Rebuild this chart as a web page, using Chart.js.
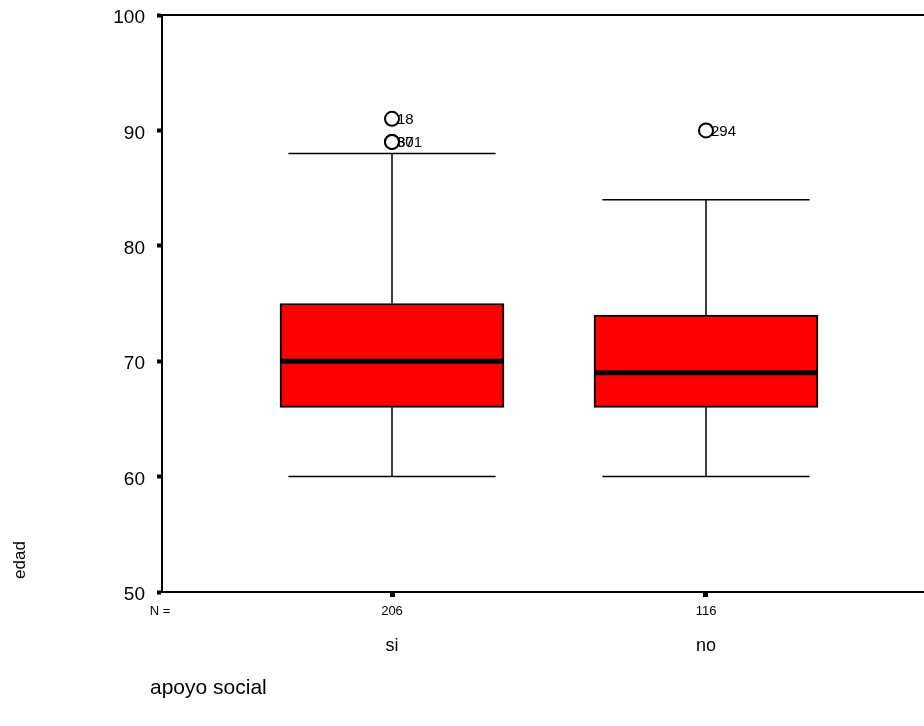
<!DOCTYPE html>
<html>
<head>
<meta charset="utf-8">
<script src="https://cdn.jsdelivr.net/npm/chart.js@4.4.0/dist/chart.umd.min.js"></script>
<style>
  html, body { margin: 0; padding: 0; background: #fff; }
  #wrap { width: 924px; height: 726px; }
</style>
</head>
<body>
<div id="wrap"><canvas id="chart"></canvas></div>
<script>
// Groups and their sizes
const categories = ['si', 'no'];
const counts = [206, 116];

// Box plot statistics (edad by apoyo social)
const whiskerLow = [60, 60];
const q1 = [66, 66];
const medians = [70, 69];
const q3 = [75, 74];
const whiskerHigh = [88, 84];

// Outliers: group index, value, case number
const outlierGroup = [0, 0, 0, 1];
const outlierValues = [91, 89, 89, 90];
const outlierLabels = ['18', '87', '301', '294'];

// Y axis ticks
const yTicks = [50, 60, 70, 80, 90, 100];

const FONT = "'Liberation Sans', Arial, sans-serif";

function drawText(ctx, text, x, y, size, align) {
    ctx.save();
    ctx.font = size + 'px ' + FONT;
    ctx.fillStyle = '#000';
    ctx.textAlign = align || 'center';
    ctx.textBaseline = 'middle';
    ctx.fillText(text, x, y);
    ctx.restore();
}

// Draws whiskers, medians, outlier labels and the SPSS style texts
const boxExtras = {
    id: 'boxExtras',
    beforeDatasetsDraw(chart) {
        const ctx = chart.ctx;
        const xs = chart.scales.x;
        const ys = chart.scales.y;
        const capHalf = 0.33;
        ctx.save();
        ctx.strokeStyle = '#000';
        ctx.lineWidth = 1.5;
        categories.forEach((c, i) => {
            const x = xs.getPixelForValue(i + 1);
            const xl = xs.getPixelForValue(i + 1 - capHalf);
            const xr = xs.getPixelForValue(i + 1 + capHalf);
            ctx.beginPath();
            ctx.moveTo(x, ys.getPixelForValue(q3[i]));
            ctx.lineTo(x, ys.getPixelForValue(whiskerHigh[i]));
            ctx.moveTo(x, ys.getPixelForValue(q1[i]));
            ctx.lineTo(x, ys.getPixelForValue(whiskerLow[i]));
            ctx.moveTo(xl, ys.getPixelForValue(whiskerHigh[i]));
            ctx.lineTo(xr, ys.getPixelForValue(whiskerHigh[i]));
            ctx.moveTo(xl, ys.getPixelForValue(whiskerLow[i]));
            ctx.lineTo(xr, ys.getPixelForValue(whiskerLow[i]));
            ctx.stroke();
        });
        ctx.restore();
    },
    afterDatasetsDraw(chart) {
        const ctx = chart.ctx;
        const xs = chart.scales.x;
        const ys = chart.scales.y;
        const area = chart.chartArea;
        const boxMeta = chart.getDatasetMeta(0);

        // median lines across each box
        ctx.save();
        ctx.strokeStyle = '#000';
        ctx.lineWidth = 5;
        boxMeta.data.forEach((bar, i) => {
            const half = bar.width / 2;
            const y = ys.getPixelForValue(medians[i]);
            ctx.beginPath();
            ctx.moveTo(bar.x - half, y);
            ctx.lineTo(bar.x + half, y);
            ctx.stroke();
        });

        // top frame line, running off the right edge
        ctx.lineWidth = 2;
        ctx.beginPath();
        ctx.moveTo(area.left, area.top);
        ctx.lineTo(chart.width, area.top);
        ctx.stroke();
        ctx.restore();

        // outlier case numbers
        outlierValues.forEach((v, i) => {
            const x = xs.getPixelForValue(outlierGroup[i] + 1);
            drawText(ctx, outlierLabels[i], x + 5, ys.getPixelForValue(v) + 1, 15, 'left');
        });

        // N row, group names, axis titles
        drawText(ctx, 'N =', 160, 611, 13);
        categories.forEach((c, i) => {
            const x = xs.getPixelForValue(i + 1);
            drawText(ctx, String(counts[i]), x, 611, 13);
            drawText(ctx, c, x, 646, 18);
        });
        drawText(ctx, 'apoyo social', 150, 688, 21, 'left');

        ctx.save();
        ctx.translate(20, 560);
        ctx.rotate(-Math.PI / 2);
        drawText(ctx, 'edad', 0, 0, 17);
        ctx.restore();
    }
};

const ctx = document.getElementById('chart').getContext('2d');
new Chart(ctx, {
    type: 'bar',
    data: {
        datasets: [{
            type: 'bar',
            data: categories.map((c, i) => ({ x: i + 1, y: [q1[i], q3[i]] })),
            backgroundColor: '#ff0000',
            borderColor: '#000',
            borderWidth: 2,
            borderSkipped: false,
            barThickness: 224
        }, {
            type: 'scatter',
            data: outlierValues.map((v, i) => ({ x: outlierGroup[i] + 1, y: v })),
            pointRadius: 7,
            pointBackgroundColor: '#fff',
            pointBorderColor: '#000',
            pointBorderWidth: 2
        }]
    },
    options: {
        responsive: true,
        maintainAspectRatio: false,
        animation: false,
        layout: { autoPadding: false, padding: { top: 15, left: 0, right: 0, bottom: 0 } },
        plugins: {
            legend: { display: false },
            tooltip: { enabled: false }
        },
        scales: {
            x: {
                type: 'linear',
                offset: false,
                min: 0.2675,
                max: 2.6943,
                afterBuildTicks: s => { s.ticks = categories.map((c, i) => ({ value: i + 1 })); },
                afterFit: s => {
                    s.height = 134;
                    s.paddingLeft = 0;
                    s.paddingRight = 0;
                },
                ticks: { display: false },
                grid: { offset: false, drawOnChartArea: false, drawTicks: true, tickLength: 5, tickWidth: 5, color: '#000' },
                border: { display: true, color: '#000', width: 2 }
            },
            y: {
                min: 50,
                max: 100,
                afterBuildTicks: s => { s.ticks = yTicks.map(v => ({ value: v })); },
                afterFit: s => {
                    s.width = 162;
                    s.paddingTop = 0;
                    s.paddingBottom = 0;
                },
                ticks: {
                    color: '#000',
                    font: { family: FONT, size: 19 },
                    padding: 12,
                    labelOffset: 3
                },
                grid: { drawOnChartArea: false, drawTicks: true, tickLength: 5, tickWidth: 4, color: '#000' },
                border: { display: true, color: '#000', width: 2 }
            }
        }
    },
    plugins: [boxExtras]
});
</script>
</body>
</html>
